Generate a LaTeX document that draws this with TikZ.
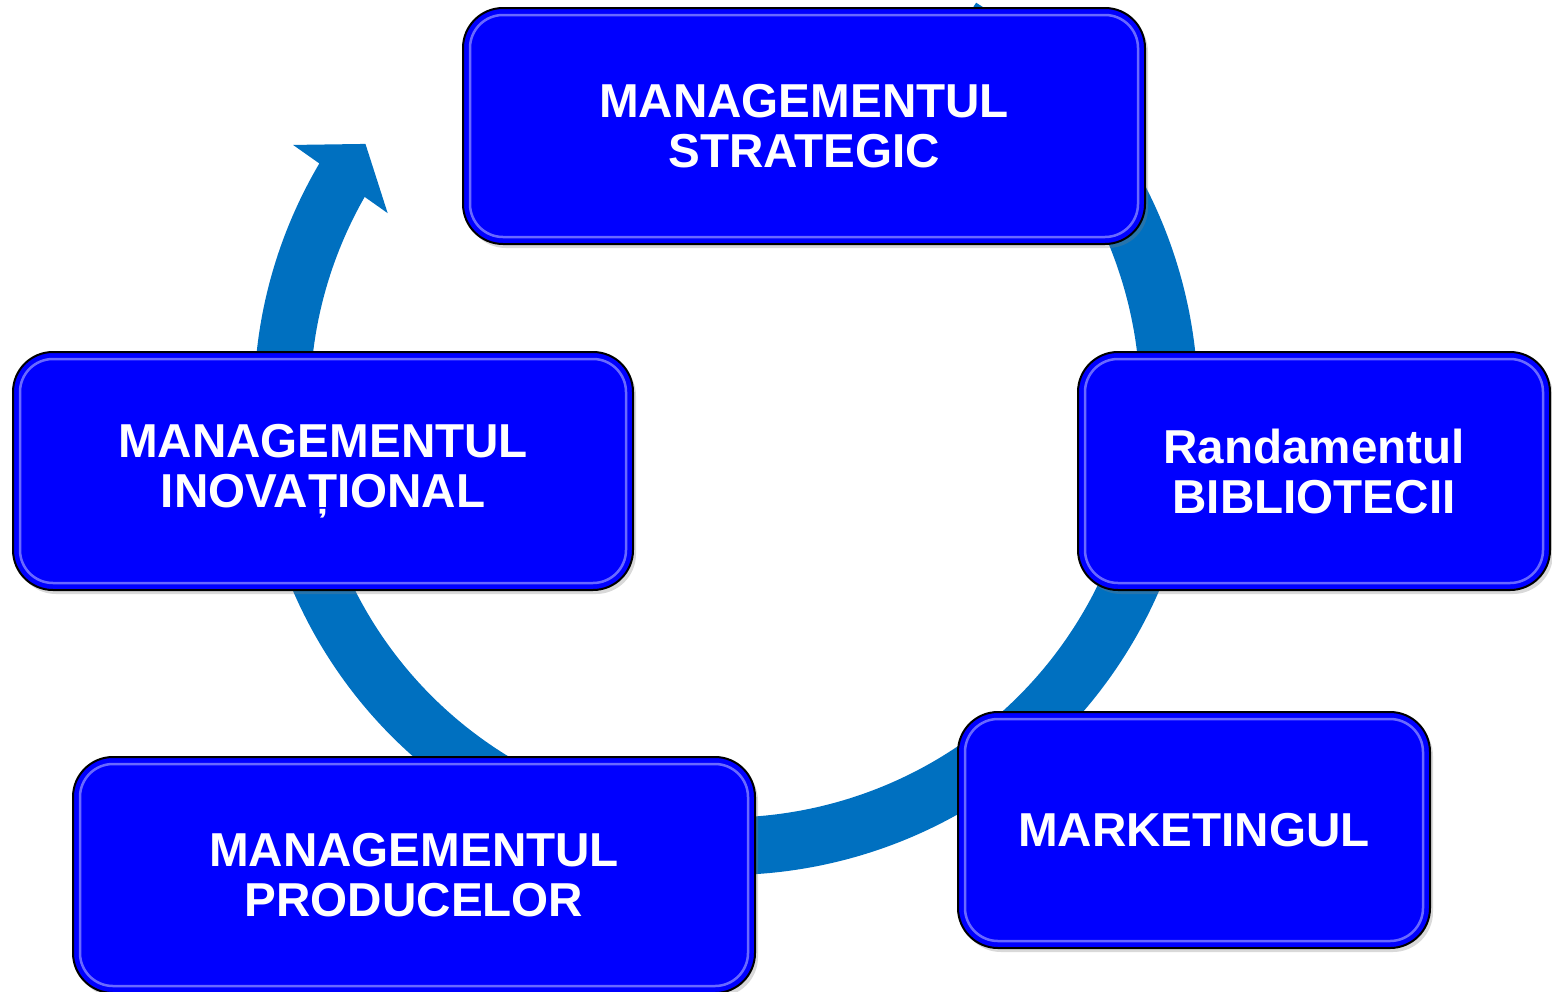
\documentclass[tikz,border=0pt]{standalone}
\usepackage{fontspec}
\setmainfont{Liberation Sans}
\usetikzlibrary{shadows}
\definecolor{ringcol}{RGB}{0,112,192}
\definecolor{boxblue}{RGB}{0,0,255}
\definecolor{hilite}{RGB}{150,150,255}
\tikzset{
  card/.style={rectangle, rounded corners=40, fill=boxblue, draw=black, line width=2,
    text=white, align=center, inner sep=0,
    font=\fontsize{47.6}{50}\selectfont\bfseries,
    drop shadow={shadow xshift=3, shadow yshift=-4, opacity=0.3}},
  hl/.style={draw=hilite, line width=2.5, rounded corners=33, opacity=0.7}
}
\begin{document}
\begin{tikzpicture}[x=1pt,y=1pt]
\useasboundingbox (0,-991) rectangle (1552,0);
\clip (0,-991) rectangle (1552,0);
\begin{scope}[shift={(726,-403)}]
\fill[ringcol] (58:472) arc[start angle=58, end angle=-210.5, radius=472]
  -- (-210.8:504) -- (-215.7:444) -- (-209.3:388) -- (-209.7:416)
  arc[start angle=-209.7, end angle=58, radius=415] -- cycle;
\end{scope}
\node[card, minimum width=682, minimum height=236] (ms) at (804,-126) {MANAGEMENTUL\\STRATEGIC};
\node[card, minimum width=472, minimum height=238] (rb) at (1314,-471) {Randamentul\\BIBLIOTECII};
\node[card, minimum width=472, minimum height=236] (mk) at (1194,-830) {MARKETINGUL};
\node[card, minimum width=682, minimum height=236] (mp) at (414,-875) {MANAGEMENTUL\\PRODUCELOR};
\node[card, minimum width=620, minimum height=238] (mi) at (323,-471) {MANAGEMENTUL\\INOVAȚIONAL};
\foreach \n in {ms,rb,mk,mp,mi}{
  \draw[hl] ([shift={(8,-8)}]\n.north west) rectangle ([shift={(-8,8)}]\n.south east);
}
\end{tikzpicture}
\end{document}
